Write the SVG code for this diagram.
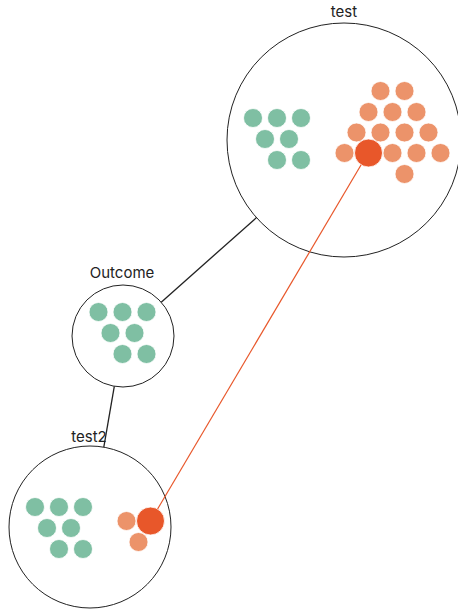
<svg xmlns="http://www.w3.org/2000/svg" width="458" height="609" viewBox="0 0 458 609">
<style>
.node{fill:#fff;stroke:#222;stroke-width:1}
.lbl{font-family:Inter,"Liberation Sans",sans-serif;font-size:15px;fill:#222;text-anchor:middle}
.g{fill:#7fbfa3;stroke:#fff;stroke-width:0.8}
.o{fill:#ec936a;stroke:#fff;stroke-width:0.8}
.b{fill:#e8572a;stroke:#fff;stroke-width:0.8}
.edge{stroke:#222;stroke-width:1.3;fill:none}
.hl{stroke:#e8572a;stroke-width:1.2;fill:none}
</style>
<g id="test">
<circle class="node" cx="344" cy="140" r="117"/>
<text class="lbl" x="344" y="17">test</text>
<circle class="g" cx="253" cy="118" r="9.5"/><circle class="g" cx="277" cy="118" r="9.5"/><circle class="g" cx="301" cy="118" r="9.5"/>
<circle class="g" cx="265" cy="139" r="9.5"/><circle class="g" cx="289" cy="139" r="9.5"/>
<circle class="g" cx="277" cy="160" r="9.5"/><circle class="g" cx="301" cy="160" r="9.5"/>
<circle class="o" cx="380.5" cy="91" r="9.5"/><circle class="o" cx="404.5" cy="91" r="9.5"/>
<circle class="o" cx="368.5" cy="112" r="9.5"/><circle class="o" cx="392.5" cy="112" r="9.5"/><circle class="o" cx="416.5" cy="112" r="9.5"/>
<circle class="o" cx="356.5" cy="132.5" r="9.5"/><circle class="o" cx="380.5" cy="132.5" r="9.5"/><circle class="o" cx="404.5" cy="132.5" r="9.5"/><circle class="o" cx="428.5" cy="132.5" r="9.5"/>
<circle class="o" cx="344.5" cy="153" r="9.5"/><circle class="o" cx="392.5" cy="153" r="9.5"/><circle class="o" cx="416.5" cy="153" r="9.5"/><circle class="o" cx="440.5" cy="153" r="9.5"/>
<circle class="o" cx="404.5" cy="174" r="9.5"/>
<circle class="b" cx="368.5" cy="153" r="14"/>
</g>
<g id="outcome">
<circle class="node" cx="123" cy="336" r="51"/>
<text class="lbl" x="122" y="278">Outcome</text>
<circle class="g" cx="98.5" cy="312" r="9.5"/><circle class="g" cx="122.5" cy="312" r="9.5"/><circle class="g" cx="146.5" cy="312" r="9.5"/>
<circle class="g" cx="110.5" cy="333" r="9.5"/><circle class="g" cx="134.5" cy="333" r="9.5"/>
<circle class="g" cx="122.5" cy="354" r="9.5"/><circle class="g" cx="146.5" cy="354" r="9.5"/>
</g>
<g id="test2">
<circle class="node" cx="90" cy="527" r="81"/>
<text class="lbl" x="89" y="442">test2</text>
<circle class="g" cx="35" cy="507" r="9.5"/><circle class="g" cx="59" cy="507" r="9.5"/><circle class="g" cx="83" cy="507" r="9.5"/>
<circle class="g" cx="47" cy="528" r="9.5"/><circle class="g" cx="71" cy="528" r="9.5"/>
<circle class="g" cx="59" cy="549" r="9.5"/><circle class="g" cx="83" cy="549" r="9.5"/>
<circle class="o" cx="126.5" cy="521" r="9.5"/><circle class="o" cx="138.5" cy="542" r="9.5"/>
<circle class="b" cx="150.5" cy="521" r="14"/>
</g>
<g id="connectors">
<line class="edge" x1="161.2" y1="302.2" x2="256.5" y2="217.6"/>
<line class="edge" x1="103.8" y1="447.2" x2="114.3" y2="386.3"/>
<line class="hl" x1="361" y1="165" x2="157.6" y2="509"/>
</g>
</svg>
